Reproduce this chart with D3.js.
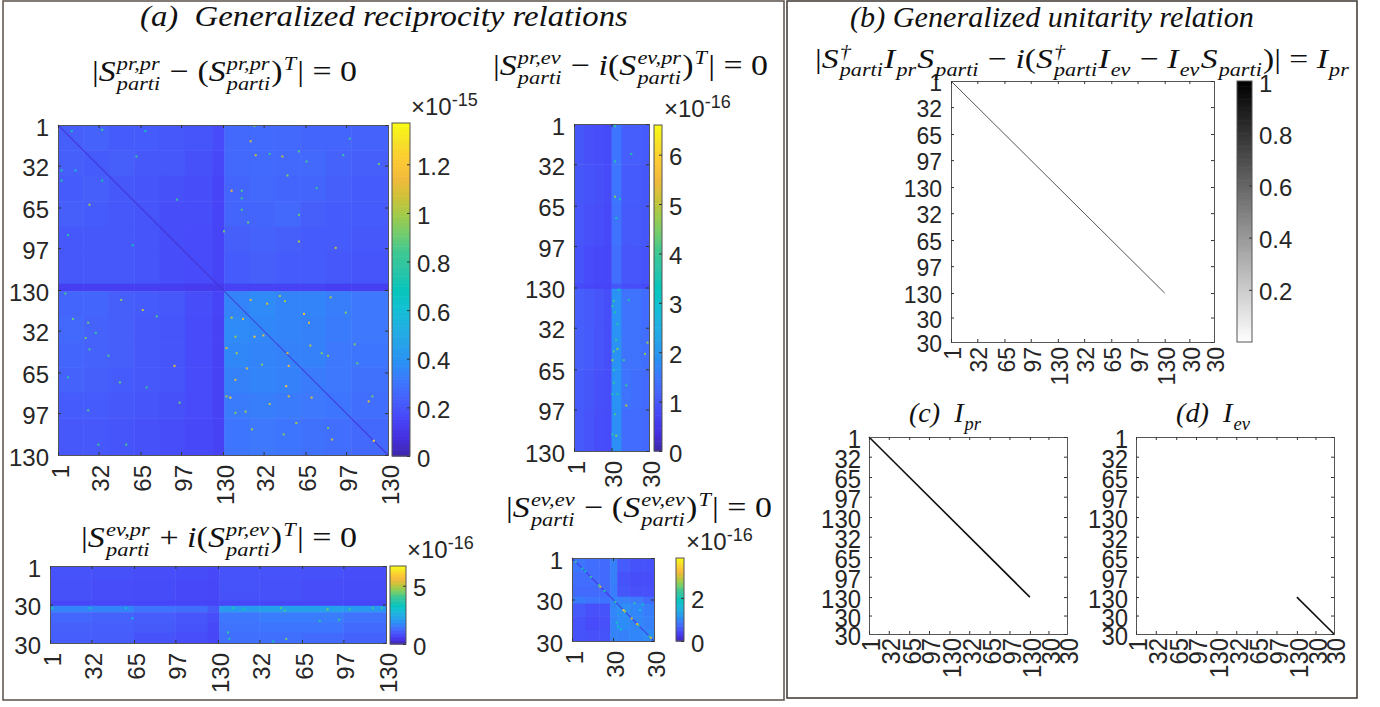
<!DOCTYPE html>
<html lang="en">
<head>
<meta charset="UTF-8">
<title>Generalized reciprocity and unitarity relations</title>
<script src="https://d3js.org/d3.v7.min.js"></script>
<style>
    html, body { margin: 0; padding: 0; background: #fff; }
    svg { display: block; }
    .tick-label text, .tick text { font-family: "Liberation Sans", Arial, sans-serif; fill: #262626; }
    .title { font-family: "Liberation Serif", serif; fill: #111; }
    .title text { white-space: pre; }
</style>
</head>
<body>
<svg id="chart" width="1380" height="707"></svg>
<script>
// Tick positions and labels
const prTickPos = [0, 32, 65, 97, 130, 162, 195, 227, 260];
const prTickLabels = ["1", "32", "65", "97", "130", "32", "65", "97", "130"];
const evTickPos = [0, 30, 60];
const evTickLabels = ["1", "30", "30"];
const allTickPos = [0, 32, 65, 97, 130, 162, 195, 227, 260, 290, 320];
const allTickLabels = ["1", "32", "65", "97", "130", "32", "65", "97", "130", "30", "30"];

// The real maps are pixel noise. Values below are regional levels read off the
// picture, plus the individual bright cells that can be located in it.
const prprRowEdges = [0, 20, 40, 60, 80, 100, 125, 131, 151, 171, 191, 211, 231, 260];
const prprColEdges = [0, 20, 40, 60, 80, 100, 122, 131, 151, 171, 191, 211, 231, 260];
const prprLevels = [
    [.23, .24, .22, .22, .21, .20, .17, .26, .27, .26, .25, .25, .24],
    [.23, .22, .23, .21, .21, .19, .16, .26, .27, .26, .26, .24, .23],
    [.22, .23, .21, .20, .19, .18, .15, .25, .26, .25, .25, .23, .22],
    [.23, .22, .21, .20, .18, .18, .15, .25, .25, .26, .23, .22, .22],
    [.21, .21, .21, .20, .18, .17, .15, .23, .24, .23, .22, .22, .21],
    [.21, .21, .21, .20, .18, .17, .15, .22, .23, .22, .22, .21, .20],
    [.13, .13, .13, .13, .13, .12, .12, .14, .14, .14, .14, .13, .13],
    [.25, .25, .23, .22, .21, .18, .15, .35, .37, .35, .35, .33, .31],
    [.26, .24, .23, .21, .20, .17, .14, .37, .36, .35, .34, .32, .31],
    [.25, .24, .23, .21, .20, .17, .14, .36, .35, .34, .34, .31, .30],
    [.24, .23, .22, .21, .20, .17, .14, .34, .35, .34, .32, .31, .29],
    [.22, .22, .21, .20, .19, .17, .14, .32, .33, .32, .31, .30, .28],
    [.21, .21, .20, .19, .18, .16, .14, .30, .31, .30, .29, .28, .26]
];
// [column, row, value]
const prprBright = [
    [25, 63, 1.0], [94, 59, .8], [62, 25, .8], [3, 36, .75], [3, 44, .75], [35, 44, .7], [14, 36, .6], [8, 87, .75],
    [59, 95, .7], [11, 5, .7], [35, 4, .8], [69, 5, .7],
    [137, 52, 1.15], [152, 13, 1.1], [156, 24, 1.05], [177, 25, 1.05], [181, 40, .95], [190, 92, 1.0], [219, 97, 1.05],
    [253, 31, .9], [204, 50, .8], [145, 52, .85], [145, 58, .8], [145, 67, .85], [150, 77, .9], [131, 84, .9],
    [190, 71, .9], [196, 29, .85], [167, 23, .8], [190, 21, .85], [155, 1, .9], [225, 24, .8], [230, 11, .8],
    [50, 138, .95], [67, 146, 1.05], [6, 133, .85], [12, 153, .9], [24, 156, .9], [30, 164, .8], [22, 168, .9],
    [25, 177, .85], [92, 190, 1.1], [49, 203, .9], [70, 207, .8], [96, 219, .9], [24, 225, .85], [8, 199, .75],
    [54, 252, .85], [32, 252, .8], [78, 151, .85], [40, 182, .85],
    [152, 138, 1.1], [175, 135, 1.0], [165, 141, 1.1], [179, 139, 1.0], [198, 156, 1.1], [194, 149, 1.2], [215, 136, 1.05],
    [137, 152, 1.05], [146, 153, 1.1], [140, 167, 1.0], [155, 167, 1.2], [162, 166, 1.1], [133, 176, 1.1], [141, 180, 1.0],
    [181, 180, 1.1], [213, 182, 1.0], [199, 174, 1.05], [149, 192, 1.1], [140, 201, 1.1], [180, 206, 1.2], [161, 189, .95],
    [182, 190, 1.15], [136, 215, 1.25], [133, 214, 1.0], [182, 214, 1.1], [200, 215, 1.1], [167, 220, 1.05], [148, 226, 1.0],
    [140, 227, .95], [153, 240, 1.0], [178, 244, .95], [188, 235, 1.0], [216, 248, 1.05], [249, 249, 1.25], [234, 173, .95],
    [248, 214, .9], [245, 218, 1.1], [236, 188, .9], [227, 148, .95], [213, 239, .9], [208, 180, .95]
];

const prevRowEdges = [0, 32, 65, 97, 127, 131, 162, 195, 227, 260];
const prevColEdges = [0, 8, 16, 24, 30, 38, 46, 54, 60];
const prevLevels = [
    [1.0, .9, .85, .8, 1.45, 1.1, 1.1, 1.05],
    [1.0, .92, .88, .8, 1.45, 1.05, 1.05, 1.0],
    [.98, .9, .85, .78, 1.4, 1.02, 1.02, 1.0],
    [.92, .82, .78, .75, 1.35, .98, .98, .92],
    [.8, .75, .72, .7, 1.0, .85, .85, .8],
    [1.1, 1.02, .95, .85, 1.9, 1.42, 1.42, 1.32],
    [1.12, 1.05, .95, .85, 1.9, 1.4, 1.4, 1.35],
    [1.05, 1.0, .9, .85, 1.9, 1.4, 1.35, 1.3],
    [1.02, .95, .85, .82, 1.85, 1.32, 1.32, 1.25]
];
const prevBright = [
    [32, 141, 4], [31, 145, 3.8], [33, 150, 3.5], [35, 159, 3.6], [34, 172, 3.7], [35, 179, 4.5], [32, 181, 4.2],
    [31, 188, 4.6], [40, 188, 4], [57, 183, 4.6], [59, 174, 4.8], [32, 196, 3.6], [32, 206, 3.8], [42, 208, 4],
    [31, 215, 3.5], [35, 215, 3.6], [42, 224, 5], [33, 231, 4], [31, 247, 3.6], [34, 248, 4.5], [36, 132, 3.5],
    [44, 140, 3.5], [33, 2, 3.8], [33, 30, 3.6], [33, 58, 4.6], [34, 75, 3.4], [37, 60, 3.5], [46, 24, 3.5]
];

const evprRowEdges = [0, 10, 20, 27, 31, 36, 44, 52, 60];
const evprColEdges = [0, 32, 65, 97, 122, 131, 162, 195, 227, 260];
const evprLevels = [
    [.95, .92, .88, .85, .8, .95, .95, .92, .88],
    [.92, .88, .85, .8, .78, .95, .92, .88, .85],
    [.92, .88, .85, .8, .78, .92, .92, .88, .85],
    [.78, .78, .75, .75, .72, .78, .78, .78, .75],
    [1.7, 1.7, 1.45, 1.35, 1.05, 2.1, 2.2, 2.2, 2.05],
    [1.25, 1.18, 1.08, 1.0, .88, 1.5, 1.58, 1.58, 1.45],
    [1.15, 1.12, 1.05, .95, .8, 1.42, 1.48, 1.48, 1.32],
    [1.12, 1.08, .95, .88, .78, 1.38, 1.38, 1.32, 1.2]
];
const evprBright = [
    [179, 33, 4.2], [182, 35, 4], [215, 34, 4.5], [232, 34, 4], [250, 33, 4], [257, 33, 4], [142, 33, 3.6], [150, 34, 3.5],
    [31, 33, 3.2], [59, 33, 3.2], [2, 33, 3.5], [138, 52, 4], [183, 57, 4.5], [209, 43, 3.6], [224, 42, 4], [173, 59, 3.5],
    [64, 41, 3], [139, 57, 3.6]
];

const evevEdges = [0, 10, 20, 28, 33, 42, 52, 60];
const evevLevels = [
    [.85, .78, .75, .95, .62, .55, .55],
    [.78, .78, .75, .95, .55, .5, .5],
    [.75, .75, .75, .92, .58, .52, .52],
    [.9, .85, .82, .98, .95, .88, .75],
    [.6, .52, .55, 1.0, 1.08, 1.0, .92],
    [.55, .48, .52, .98, 1.05, 1.0, .95],
    [.55, .52, .55, .98, .95, 1.0, 1.05]
];
const evevBright = [
    [3, 3, 2.2], [8, 8, 1.9], [10, 10, 1.8], [14, 14, 2.2], [21, 21, 3.0], [20, 20, 2.4], [24, 24, 2.0], [32, 32, 2.2],
    [38, 38, 3.6], [39, 39, 2.8], [44, 44, 3.0], [48, 48, 3.2], [49, 49, 2.4], [58, 58, 3.0], [57, 57, 2.4],
    [33, 47, 2.0], [46, 33, 2.2], [52, 34, 1.8], [34, 50, 1.8], [50, 38, 1.7], [36, 52, 1.7]
];

// Colorbar ranges and ticks
const prprBarMax = 1.37, prprBarTicks = [0, .2, .4, .6, .8, 1, 1.2];
const prevBarMax = 6.6, prevBarTicks = [0, 1, 2, 3, 4, 5, 6];
const evprBarMax = 6.7, evprBarTicks = [0, 5];
const evevBarMax = 3.85, evevBarTicks = [0, 2];
const grayBarTicks = [.2, .4, .6, .8, 1];

// Diagonal segments of the unitarity maps, as [start, end] index
const unitarityDiag = [0, 260];
const prDiag = [0, 260];
const evDiag = [260, 320];

const parulaStops = ["#3e26a8", "#4430e0", "#4745f8", "#465efb", "#3e76fe", "#2b8ef6", "#26a2ea", "#21b0e2",
    "#12c0d3", "#07c6bc", "#2ac4a8", "#3dc893", "#71cc6e", "#9ecb4b", "#cec239", "#f2ba3c", "#fdc934", "#f6e127", "#f9fb15"];

const svg = d3.select("#chart");

function parulaScale(max) {
    return d3.scaleLinear()
        .domain(parulaStops.map((c, i) => i / (parulaStops.length - 1) * max))
        .range(parulaStops)
        .clamp(true);
}

function drawAxes(g, x, y, xPos, xLabels, yPos, yLabels, opts) {
    const labelFor = (pos, labels) => d => labels[pos.indexOf(d)];
    const size = opts.font;
    const left = g.append("g").attr("transform", `translate(${x.range()[0]},0)`)
        .call(d3.axisLeft(y).tickValues(yPos).tickFormat(labelFor(yPos, yLabels)).tickSize(-opts.tick).tickPadding(opts.padY));
    const bottom = g.append("g").attr("transform", `translate(0,${y.range()[1]})`)
        .call(d3.axisBottom(x).tickValues(xPos).tickFormat(labelFor(xPos, xLabels)).tickSize(-opts.tick));
    g.append("g").attr("transform", `translate(0,${y.range()[0]})`)
        .call(d3.axisTop(x).tickValues(xPos).tickFormat("").tickSize(-opts.tick));
    g.append("g").attr("transform", `translate(${x.range()[1]},0)`)
        .call(d3.axisRight(y).tickValues(yPos).tickFormat("").tickSize(-opts.tick));

    left.selectAll("text").style("font-size", size + "px").attr("dy", ".42em");
    bottom.selectAll("text")
        .style("font-size", size + "px")
        .attr("text-anchor", "end")
        .attr("transform", "rotate(-90)")
        .attr("x", -opts.padX)
        .attr("y", 0)
        .attr("dy", ".42em");
    // small multiples (c), (d): tall digits at the normal label length
    if (opts.digitWidth) {
        g.selectAll(".tick text")
            .filter(function() { return this.textContent.length > 0; })
            .attr("textLength", function() { return this.textContent.length * opts.digitWidth; })
            .attr("lengthAdjust", "spacingAndGlyphs");
    }
    g.selectAll(".domain").attr("stroke", "#555").attr("stroke-width", 1);
    g.selectAll(".tick line").attr("stroke", "#333").attr("stroke-width", 1);
}

function drawHeatmap(box, rowEdges, colEdges, levels, bright, color, xN, yN, xPos, xLabels, yPos, yLabels, diagValue) {
    const x = d3.scaleLinear().domain([0, xN]).range([box.x0, box.x1]);
    const y = d3.scaleLinear().domain([0, yN]).range([box.y0, box.y1]);
    const g = svg.append("g");

    const cells = [];
    levels.forEach((row, r) => row.forEach((v, c) => cells.push({ r, c, v })));
    g.selectAll("rect.cell").data(cells).enter().append("rect")
        .attr("class", "cell")
        .attr("x", d => x(colEdges[d.c]))
        .attr("y", d => y(rowEdges[d.r]))
        .attr("width", d => x(colEdges[d.c + 1]) - x(colEdges[d.c]) + .5)
        .attr("height", d => y(rowEdges[d.r + 1]) - y(rowEdges[d.r]) + .5)
        .attr("fill", d => color(d.v));

    if (diagValue !== null) {
        g.append("line")
            .attr("x1", x(0)).attr("y1", y(0)).attr("x2", x(xN)).attr("y2", y(yN))
            .attr("stroke", color(diagValue)).attr("stroke-width", 1.2).attr("stroke-opacity", .7);
    }

    g.selectAll("rect.spot").data(bright).enter().append("rect")
        .attr("class", "spot")
        .attr("x", d => x(d[0] - 1))
        .attr("y", d => y(d[1] - 1))
        .attr("width", 2)
        .attr("height", 2)
        .attr("fill", d => color(d[2]));

    drawAxes(g, x, y, xPos, xLabels, yPos, yLabels, { font: 24, tick: 3, padY: 9, padX: 10 });
}

function drawDiagPanel(box, diag, stroke, width, opts) {
    const x = d3.scaleLinear().domain([0, 320]).range([box.x0, box.x1]);
    const y = d3.scaleLinear().domain([0, 320]).range([box.y0, box.y1]);
    const g = svg.append("g");
    g.append("line")
        .attr("x1", x(diag[0])).attr("y1", y(diag[0])).attr("x2", x(diag[1])).attr("y2", y(diag[1]))
        .attr("stroke", stroke).attr("stroke-width", width);
    drawAxes(g, x, y, allTickPos, allTickLabels, allTickPos, allTickLabels, opts);
}

function drawColorbar(box, color, max, ticks, fmt) {
    const y = d3.scaleLinear().domain([0, max]).range([box.y1, box.y0]);
    const g = svg.append("g");
    const steps = d3.range(0, 100);
    g.selectAll("rect").data(steps).enter().append("rect")
        .attr("x", box.x0)
        .attr("width", box.x1 - box.x0)
        .attr("y", d => y((d + 1) / 100 * max))
        .attr("height", (box.y1 - box.y0) / 100 + .6)
        .attr("fill", d => color((d + .5) / 100 * max));
    g.append("rect")
        .attr("x", box.x0).attr("y", box.y0)
        .attr("width", box.x1 - box.x0).attr("height", box.y1 - box.y0)
        .attr("fill", "none").attr("stroke", "#555");
    const axis = g.append("g").attr("transform", `translate(${box.x1},0)`)
        .call(d3.axisRight(y).tickValues(ticks).tickFormat(fmt || (d => d)).tickSize(-3).tickPadding(7));
    axis.select(".domain").remove();
    axis.selectAll("text").style("font-size", "24px").attr("dy", ".42em");
    axis.selectAll(".tick line").attr("stroke", "#333");
}

function drawExponent(x, baseline, power) {
    const t = svg.append("text").attr("x", x).attr("y", baseline)
        .style("font-family", '"Liberation Sans", Arial, sans-serif').style("font-size", "24px").attr("fill", "#262626");
    t.append("tspan").text("×10");
    t.append("tspan").attr("dy", -9).style("font-size", "18px").text(power);
}

// parts: {t, i, sup, sub}. The group is stretched to the width the title has in the picture.
function drawTitle(parts, x0, x1, baseline, size) {
    const g = svg.append("g").attr("class", "title");
    let cx = 0;
    const put = (txt, at, dy, px, italic) => {
        const el = g.append("text").attr("x", at).attr("y", dy)
            .style("font-size", px + "px").style("font-style", italic ? "italic" : "normal").text(txt);
        return el.node().getComputedTextLength();
    };
    parts.forEach(p => {
        cx += put(p.t, cx, 0, size, p.i);
        if (p.sup || p.sub) {
            const w1 = p.sup ? put(p.sup, cx + 1, -size * .36, size * .66, true) : 0;
            const w2 = p.sub ? put(p.sub, cx + 1, size * .3, size * .66, true) : 0;
            cx += Math.max(w1, w2) + 2;
        }
    });
    g.attr("transform", `translate(${x0},${baseline}) scale(${(x1 - x0) / cx},1)`);
}

// Frames
svg.append("rect").attr("x", 3).attr("y", 1).attr("width", 781).attr("height", 699)
    .attr("fill", "none").attr("stroke", "#5a5048").attr("stroke-width", 1.5);
svg.append("rect").attr("x", 787).attr("y", 1).attr("width", 570).attr("height", 697)
    .attr("fill", "none").attr("stroke", "#3c3630").attr("stroke-width", 1.5);

// Panel (a)
const prprColor = parulaScale(prprBarMax);
drawHeatmap({ x0: 58, x1: 388, y0: 125, y1: 455 }, prprRowEdges, prprColEdges, prprLevels, prprBright, prprColor,
    260, 260, prTickPos, prTickLabels, prTickPos, prTickLabels, .05);
drawColorbar({ x0: 392, x1: 410, y0: 123, y1: 456 }, prprColor, prprBarMax, prprBarTicks);
drawExponent(411, 115, "-15");

const prevColor = parulaScale(prevBarMax);
drawHeatmap({ x0: 574, x1: 649, y0: 124, y1: 451 }, prevRowEdges, prevColEdges, prevLevels, prevBright, prevColor,
    60, 260, evTickPos, evTickLabels, prTickPos, prTickLabels, null);
drawColorbar({ x0: 654, x1: 662, y0: 125, y1: 451 }, prevColor, prevBarMax, prevBarTicks);
drawExponent(664, 117, "-16");

const evprColor = parulaScale(evprBarMax);
drawHeatmap({ x0: 50, x1: 386, y0: 566, y1: 643 }, evprRowEdges, evprColEdges, evprLevels, evprBright, evprColor,
    260, 60, prTickPos, prTickLabels, evTickPos, evTickLabels, null);
drawColorbar({ x0: 390, x1: 406, y0: 566, y1: 644 }, evprColor, evprBarMax, evprBarTicks);
drawExponent(407, 558, "-16");

const evevColor = parulaScale(evevBarMax);
drawHeatmap({ x0: 572, x1: 654, y0: 558, y1: 641 }, evevEdges, evevEdges, evevLevels, evevBright, evevColor,
    60, 60, evTickPos, evTickLabels, evTickPos, evTickLabels, .2);
drawColorbar({ x0: 676, x1: 684, y0: 558, y1: 641 }, evevColor, evevBarMax, evevBarTicks);
drawExponent(686, 550, "-16");

// Panels (b), (c), (d)
drawDiagPanel({ x0: 951, x1: 1214, y0: 81, y1: 342 }, unitarityDiag, "#555", 1, { font: 23, tick: 3, padY: 9, padX: 5 });
const grayColor = d3.scaleLinear().domain([0, 1]).range(["#ffffff", "#000000"]);
drawColorbar({ x0: 1237, x1: 1252, y0: 81, y1: 342 }, grayColor, 1, grayBarTicks);
const smallAxis = { font: 26, digitWidth: 13.3, tick: 3, padY: 8, padX: 4 };
drawDiagPanel({ x0: 869, x1: 1067, y0: 437, y1: 634 }, prDiag, "#111", 1.6, smallAxis);
drawDiagPanel({ x0: 1136, x1: 1334, y0: 437, y1: 634 }, evDiag, "#111", 1.6, smallAxis);

// Titles
const sParti = (sup) => ({ t: "S", i: true, sup, sub: "parti" });
drawTitle([{ t: "(a)  Generalized reciprocity relations", i: true }], 140, 628, 26, 29);
drawTitle([{ t: "|" }, sParti("pr,pr"), { t: " − (" }, sParti("pr,pr"), { t: ")", sup: "T" }, { t: "| = 0" }], 92, 357, 81, 30);
drawTitle([{ t: "|" }, sParti("pr,ev"), { t: " − " }, { t: "i", i: true }, { t: "(" }, sParti("ev,pr"), { t: ")", sup: "T" }, { t: "| = 0" }], 493, 768, 75, 30);
drawTitle([{ t: "|" }, sParti("ev,pr"), { t: " + " }, { t: "i", i: true }, { t: "(" }, sParti("pr,ev"), { t: ")", sup: "T" }, { t: "| = 0" }], 81, 357, 547, 30);
drawTitle([{ t: "|" }, sParti("ev,ev"), { t: " − (" }, sParti("ev,ev"), { t: ")", sup: "T" }, { t: "| = 0" }], 506, 772, 517, 30);
drawTitle([{ t: "(b) Generalized unitarity relation", i: true }], 850, 1254, 27, 29);
drawTitle([{ t: "|" }, sParti("†"), { t: "I", i: true, sub: "pr" }, { t: "S", i: true, sub: "parti" }, { t: " − " }, { t: "i", i: true }, { t: "(" }, sParti("†"),
    { t: "I", i: true, sub: "ev" }, { t: " − " }, { t: "I", i: true, sub: "ev" }, { t: "S", i: true, sub: "parti" }, { t: ")| = " }, { t: "I", i: true, sub: "pr" }], 815, 1350, 68, 28);
drawTitle([{ t: "(c)  ", i: true }, { t: "I", i: true, sub: "pr" }], 909, 982, 422, 28);
drawTitle([{ t: "(d)  ", i: true }, { t: "I", i: true, sub: "ev" }], 1176, 1251, 422, 28);
</script>
</body>
</html>
